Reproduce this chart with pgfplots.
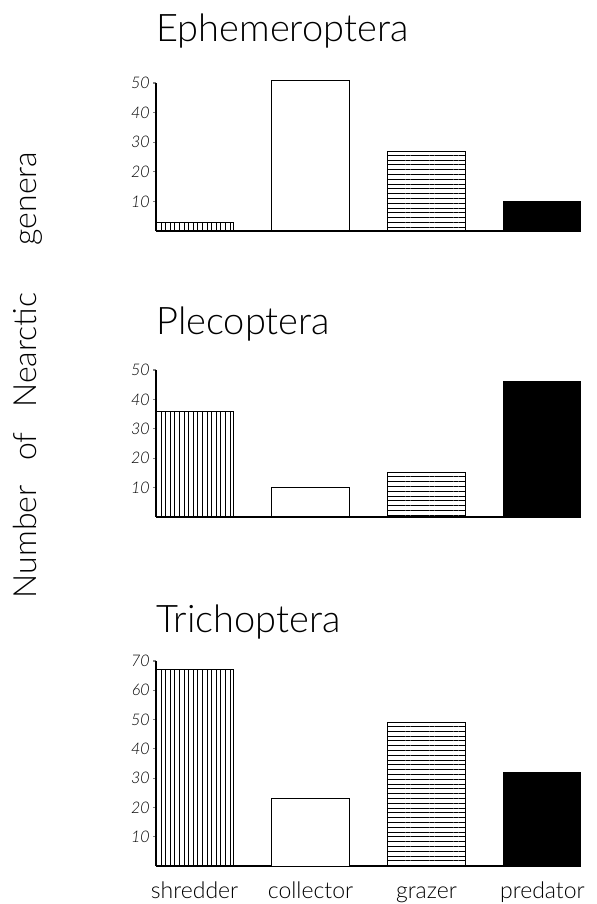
\documentclass[border=0pt]{standalone}
\usepackage{fontspec}
\setmainfont{Lato}[UprightFont=* Light, ItalicFont=* Light Italic]
\usepackage{pgfplots}
\pgfplotsset{compat=1.18}
\usetikzlibrary{patterns.meta}
\tikzset{ttl/.style={anchor=base west, inner sep=0pt, font=\fontsize{19}{23}\selectfont}}
\pgfplotsset{
  panel/.style={
    scale only axis, width=212.5pt,
    xmin=-0.333, xmax=3.333, ymin=0,
    axis x line=bottom, axis y line=left,
    axis line style={-, line width=0.55pt},
    xtick=\empty,
    tick align=outside, major tick length=1.5pt,
    tick style={line width=0.6pt},
    /pgf/number format/assume math mode=true,
    yticklabel style={font=\itshape\fontsize{8}{9}\selectfont, inner sep=1.5pt},
    clip=false,
  },
  shred/.style={ybar, bar width=0.665, bar shift=0pt, draw=black, line width=0.5pt,
    pattern={Lines[angle=90,distance=2.3pt,line width=0.35pt]}},
  coll/.style={ybar, bar width=0.665, bar shift=0pt, draw=black, line width=0.5pt, fill=white},
  graz/.style={ybar, bar width=0.665, bar shift=0pt, draw=black, line width=0.5pt,
    pattern={Lines[angle=0,distance=2.4pt,line width=0.35pt]}},
  pred/.style={ybar, bar width=0.665, bar shift=0pt, draw=black, line width=0.5pt, fill=black},
}
\begin{document}
\begin{tikzpicture}
\useasboundingbox (0pt,0pt) rectangle (298.5pt,452pt);
% Ephemeroptera
\begin{axis}[panel, at={(78pt,336.5pt)}, anchor=south west, height=74pt, ymax=50,
  ytick={10,20,30,40,50}]
  \addplot[shred] coordinates {(0,3)};
  \addplot[coll]  coordinates {(1,51)};
  \addplot[graz]  coordinates {(2,27)};
  \addplot[pred]  coordinates {(3,10)};
  \node[ttl] at (rel axis cs:0,1) [yshift=20.5pt] {Ephemeroptera};
\end{axis}
% Plecoptera
\begin{axis}[panel, at={(78pt,193.5pt)}, anchor=south west, height=73.5pt, ymax=50,
  ytick={10,20,30,40,50}]
  \addplot[shred] coordinates {(0,36)};
  \addplot[coll]  coordinates {(1,10)};
  \addplot[graz]  coordinates {(2,15)};
  \addplot[pred]  coordinates {(3,46)};
  \node[ttl] at (rel axis cs:0,1) [yshift=17.5pt] {Plecoptera};
\end{axis}
% Trichoptera
\begin{axis}[panel, at={(78pt,19pt)}, anchor=south west, height=102.5pt, ymax=70,
  ytick={10,20,30,40,50,60,70},
  xtick={0,1,2,3}, xticklabels={shredder,collector,grazer,predator},
  x tick style={draw=none}, major tick length=1.5pt,
  xticklabel style={font=\fontsize{11.5}{13}\selectfont, inner sep=0pt, anchor=base, yshift=-14.5pt}]
  \addplot[shred] coordinates {(0,67)};
  \addplot[coll]  coordinates {(1,23)};
  \addplot[graz]  coordinates {(2,49)};
  \addplot[pred]  coordinates {(3,32)};
  \node[ttl] at (rel axis cs:0,1) [yshift=14.5pt] {Trichoptera};
\end{axis}
\node[rotate=90, font=\fontsize{16}{19}\selectfont, inner sep=0pt] at (14pt,264.5pt)
  {Number\hspace{0.5em} of\hspace{0.5em} Nearctic\hspace{1.2em} genera};
\end{tikzpicture}
\end{document}
